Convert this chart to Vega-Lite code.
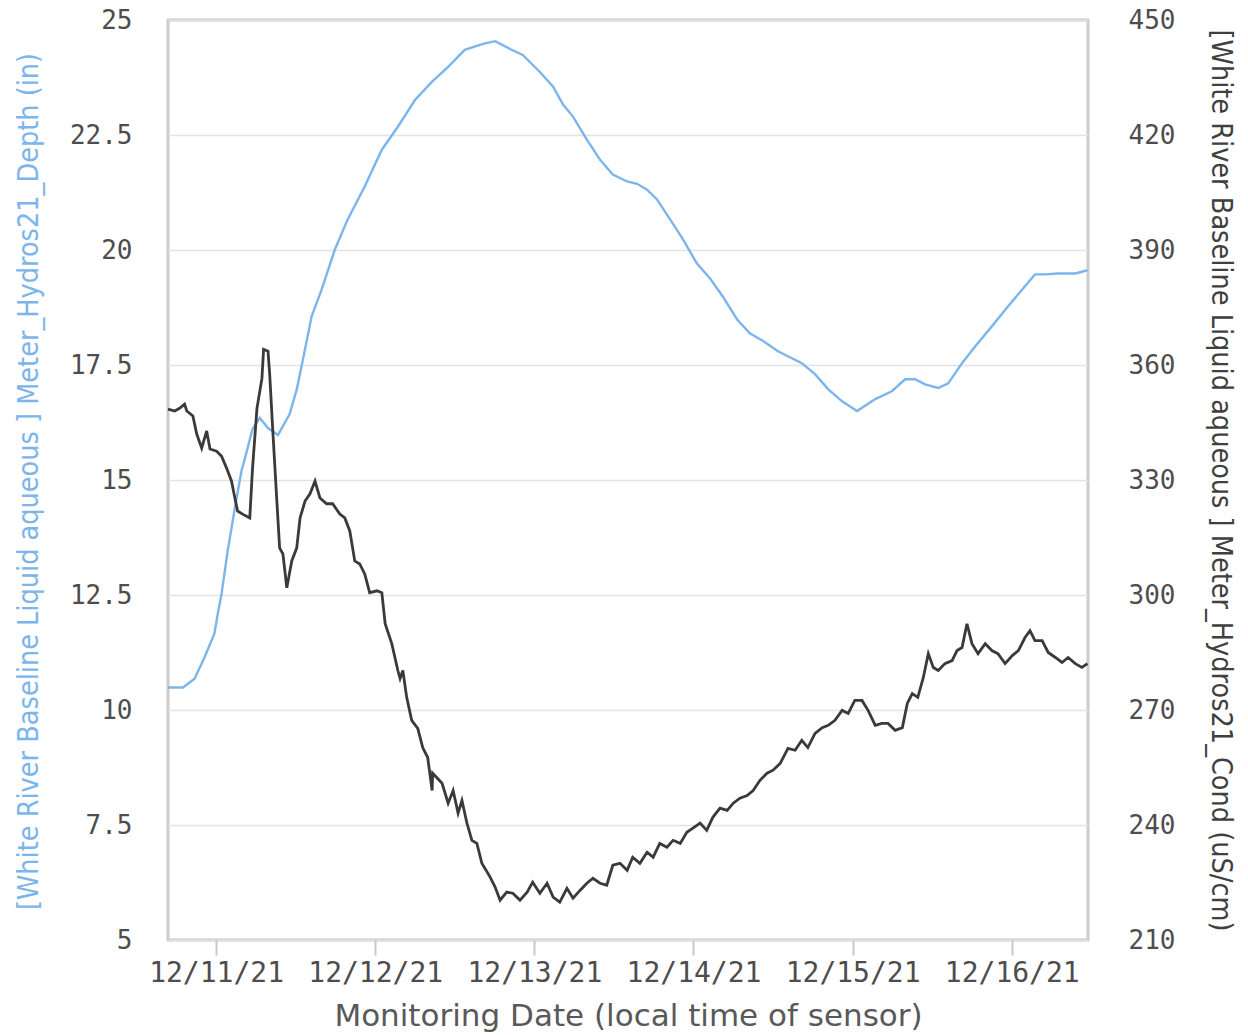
{
  "$schema": "https://vega.github.io/schema/vega-lite/v6.json",
  "width": 920,
  "height": 920,
  "autosize": {"type": "none"},
  "padding": {"left": 168, "top": 20, "right": 160, "bottom": 95},
  "background": "white",
  "config": {
    "view": {"stroke": "#cccccc", "strokeWidth": 3},
    "axis": {"domain": false, "labelColor": "#4d4d4d", "titleFontWeight": "normal", "labelFont": "DejaVu Sans Mono"}
  },
  "datasets": {
    "depth": [
      {"t": "2021-12-10T16:45", "v": 10.49}, {"t": "2021-12-10T19:00", "v": 10.49}, {"t": "2021-12-10T20:45", "v": 10.68},
      {"t": "2021-12-10T22:15", "v": 11.14}, {"t": "2021-12-10T23:45", "v": 11.66},
      {"t": "2021-12-11T00:15", "v": 12.09}, {"t": "2021-12-11T00:50", "v": 12.53}, {"t": "2021-12-11T01:45", "v": 13.46},
      {"t": "2021-12-11T02:50", "v": 14.39}, {"t": "2021-12-11T03:50", "v": 15.2}, {"t": "2021-12-11T04:20", "v": 15.46},
      {"t": "2021-12-11T05:30", "v": 16.11}, {"t": "2021-12-11T06:35", "v": 16.35}, {"t": "2021-12-11T07:50", "v": 16.13},
      {"t": "2021-12-11T09:20", "v": 15.98}, {"t": "2021-12-11T11:05", "v": 16.43}, {"t": "2021-12-11T12:10", "v": 16.97},
      {"t": "2021-12-11T13:25", "v": 17.84}, {"t": "2021-12-11T14:25", "v": 18.56}, {"t": "2021-12-11T15:55", "v": 19.14},
      {"t": "2021-12-11T17:55", "v": 20.01}, {"t": "2021-12-11T19:50", "v": 20.66}, {"t": "2021-12-11T22:25", "v": 21.38},
      {"t": "2021-12-12T01:00", "v": 22.18}, {"t": "2021-12-12T03:25", "v": 22.68}, {"t": "2021-12-12T06:00", "v": 23.26},
      {"t": "2021-12-12T08:35", "v": 23.66}, {"t": "2021-12-12T11:00", "v": 23.98}, {"t": "2021-12-12T13:30", "v": 24.35},
      {"t": "2021-12-12T16:15", "v": 24.48}, {"t": "2021-12-12T18:05", "v": 24.54}, {"t": "2021-12-12T20:20", "v": 24.37},
      {"t": "2021-12-12T22:15", "v": 24.24},
      {"t": "2021-12-13T00:50", "v": 23.87}, {"t": "2021-12-13T02:50", "v": 23.55}, {"t": "2021-12-13T04:20", "v": 23.16},
      {"t": "2021-12-13T05:50", "v": 22.9}, {"t": "2021-12-13T07:55", "v": 22.4}, {"t": "2021-12-13T09:55", "v": 21.96},
      {"t": "2021-12-13T11:50", "v": 21.64}, {"t": "2021-12-13T14:00", "v": 21.49}, {"t": "2021-12-13T15:30", "v": 21.44},
      {"t": "2021-12-13T17:00", "v": 21.31}, {"t": "2021-12-13T18:30", "v": 21.1}, {"t": "2021-12-13T20:30", "v": 20.66},
      {"t": "2021-12-13T22:25", "v": 20.23},
      {"t": "2021-12-14T00:30", "v": 19.71}, {"t": "2021-12-14T02:30", "v": 19.38}, {"t": "2021-12-14T04:25", "v": 18.99},
      {"t": "2021-12-14T06:35", "v": 18.49}, {"t": "2021-12-14T08:30", "v": 18.19}, {"t": "2021-12-14T10:30", "v": 18.02},
      {"t": "2021-12-14T12:45", "v": 17.8}, {"t": "2021-12-14T14:15", "v": 17.69}, {"t": "2021-12-14T16:20", "v": 17.54},
      {"t": "2021-12-14T18:20", "v": 17.3}, {"t": "2021-12-14T20:20", "v": 16.97}, {"t": "2021-12-14T22:25", "v": 16.71},
      {"t": "2021-12-15T00:40", "v": 16.5}, {"t": "2021-12-15T03:25", "v": 16.76}, {"t": "2021-12-15T05:55", "v": 16.93},
      {"t": "2021-12-15T07:55", "v": 17.19}, {"t": "2021-12-15T09:25", "v": 17.19}, {"t": "2021-12-15T10:55", "v": 17.08},
      {"t": "2021-12-15T12:55", "v": 17.0}, {"t": "2021-12-15T14:25", "v": 17.1}, {"t": "2021-12-15T16:30", "v": 17.54},
      {"t": "2021-12-15T18:30", "v": 17.91}, {"t": "2021-12-15T21:00", "v": 18.34}, {"t": "2021-12-15T23:25", "v": 18.77},
      {"t": "2021-12-16T01:35", "v": 19.14}, {"t": "2021-12-16T03:30", "v": 19.47}, {"t": "2021-12-16T05:00", "v": 19.47},
      {"t": "2021-12-16T07:00", "v": 19.49}, {"t": "2021-12-16T09:35", "v": 19.49}, {"t": "2021-12-16T11:25", "v": 19.56}
    ],
    "cond": [
      {"t": "2021-12-10T16:45", "v": 348.5}, {"t": "2021-12-10T17:45", "v": 348.0}, {"t": "2021-12-10T18:30", "v": 348.7},
      {"t": "2021-12-10T19:15", "v": 349.8}, {"t": "2021-12-10T19:35", "v": 348.0}, {"t": "2021-12-10T20:30", "v": 346.7},
      {"t": "2021-12-10T21:05", "v": 342.0}, {"t": "2021-12-10T21:50", "v": 338.3}, {"t": "2021-12-10T22:35", "v": 342.8},
      {"t": "2021-12-10T23:05", "v": 338.1},
      {"t": "2021-12-11T00:05", "v": 337.5}, {"t": "2021-12-11T00:50", "v": 336.2}, {"t": "2021-12-11T01:35", "v": 333.1},
      {"t": "2021-12-11T02:20", "v": 329.7}, {"t": "2021-12-11T02:50", "v": 325.3}, {"t": "2021-12-11T03:15", "v": 321.9},
      {"t": "2021-12-11T04:00", "v": 321.1}, {"t": "2021-12-11T05:05", "v": 320.1}, {"t": "2021-12-11T05:30", "v": 333.1},
      {"t": "2021-12-11T06:10", "v": 348.7}, {"t": "2021-12-11T06:55", "v": 356.5}, {"t": "2021-12-11T07:10", "v": 364.1},
      {"t": "2021-12-11T07:50", "v": 363.6}, {"t": "2021-12-11T08:05", "v": 357.6}, {"t": "2021-12-11T08:35", "v": 342.0},
      {"t": "2021-12-11T09:10", "v": 324.5}, {"t": "2021-12-11T09:35", "v": 312.3}, {"t": "2021-12-11T10:05", "v": 310.7},
      {"t": "2021-12-11T10:40", "v": 301.9}, {"t": "2021-12-11T11:25", "v": 308.9}, {"t": "2021-12-11T12:10", "v": 312.3},
      {"t": "2021-12-11T12:40", "v": 320.1}, {"t": "2021-12-11T13:25", "v": 324.5}, {"t": "2021-12-11T14:10", "v": 326.4},
      {"t": "2021-12-11T14:55", "v": 329.7}, {"t": "2021-12-11T15:40", "v": 325.3}, {"t": "2021-12-11T16:40", "v": 323.8},
      {"t": "2021-12-11T17:35", "v": 323.8}, {"t": "2021-12-11T18:40", "v": 321.1}, {"t": "2021-12-11T19:25", "v": 320.1},
      {"t": "2021-12-11T20:10", "v": 316.7}, {"t": "2021-12-11T20:55", "v": 308.9}, {"t": "2021-12-11T21:40", "v": 308.1},
      {"t": "2021-12-11T22:25", "v": 305.5}, {"t": "2021-12-11T23:10", "v": 300.6},
      {"t": "2021-12-12T00:15", "v": 301.1}, {"t": "2021-12-12T01:00", "v": 300.6}, {"t": "2021-12-12T01:30", "v": 292.5},
      {"t": "2021-12-12T02:30", "v": 287.3}, {"t": "2021-12-12T03:25", "v": 280.3}, {"t": "2021-12-12T03:45", "v": 278.2},
      {"t": "2021-12-12T04:10", "v": 280.3}, {"t": "2021-12-12T04:45", "v": 273.3}, {"t": "2021-12-12T05:30", "v": 267.3},
      {"t": "2021-12-12T06:25", "v": 265.2}, {"t": "2021-12-12T07:10", "v": 260.2}, {"t": "2021-12-12T07:55", "v": 257.6},
      {"t": "2021-12-12T08:35", "v": 249.0}, {"t": "2021-12-12T08:40", "v": 253.5}, {"t": "2021-12-12T10:05", "v": 250.9},
      {"t": "2021-12-12T11:00", "v": 245.7}, {"t": "2021-12-12T11:45", "v": 249.0}, {"t": "2021-12-12T12:30", "v": 243.1},
      {"t": "2021-12-12T13:05", "v": 246.4}, {"t": "2021-12-12T13:50", "v": 240.5}, {"t": "2021-12-12T14:35", "v": 236.0},
      {"t": "2021-12-12T15:20", "v": 235.2}, {"t": "2021-12-12T16:05", "v": 230.0}, {"t": "2021-12-12T17:20", "v": 226.4},
      {"t": "2021-12-12T18:05", "v": 223.8}, {"t": "2021-12-12T18:50", "v": 220.4}, {"t": "2021-12-12T19:50", "v": 222.5},
      {"t": "2021-12-12T20:45", "v": 222.2}, {"t": "2021-12-12T21:50", "v": 220.4}, {"t": "2021-12-12T22:55", "v": 222.5},
      {"t": "2021-12-12T23:45", "v": 225.1},
      {"t": "2021-12-13T00:50", "v": 222.2}, {"t": "2021-12-13T01:55", "v": 224.8}, {"t": "2021-12-13T02:50", "v": 221.2},
      {"t": "2021-12-13T03:50", "v": 219.9}, {"t": "2021-12-13T04:55", "v": 223.5}, {"t": "2021-12-13T05:50", "v": 220.9},
      {"t": "2021-12-13T06:55", "v": 223.0}, {"t": "2021-12-13T07:55", "v": 224.8}, {"t": "2021-12-13T08:50", "v": 226.1},
      {"t": "2021-12-13T09:55", "v": 224.8}, {"t": "2021-12-13T10:55", "v": 224.3}, {"t": "2021-12-13T11:50", "v": 229.5},
      {"t": "2021-12-13T12:55", "v": 230.0}, {"t": "2021-12-13T14:00", "v": 228.2}, {"t": "2021-12-13T14:50", "v": 231.6},
      {"t": "2021-12-13T15:55", "v": 230.0}, {"t": "2021-12-13T17:00", "v": 232.9}, {"t": "2021-12-13T17:55", "v": 231.6},
      {"t": "2021-12-13T18:55", "v": 235.2}, {"t": "2021-12-13T20:00", "v": 234.2}, {"t": "2021-12-13T20:55", "v": 236.0},
      {"t": "2021-12-13T22:00", "v": 235.2}, {"t": "2021-12-13T23:00", "v": 238.1}, {"t": "2021-12-13T23:55", "v": 239.2},
      {"t": "2021-12-14T01:00", "v": 240.5}, {"t": "2021-12-14T02:00", "v": 238.6}, {"t": "2021-12-14T02:55", "v": 242.0},
      {"t": "2021-12-14T04:00", "v": 244.4}, {"t": "2021-12-14T05:05", "v": 243.8}, {"t": "2021-12-14T06:00", "v": 245.7},
      {"t": "2021-12-14T07:00", "v": 247.0}, {"t": "2021-12-14T08:05", "v": 247.7}, {"t": "2021-12-14T09:00", "v": 249.0},
      {"t": "2021-12-14T10:00", "v": 251.6}, {"t": "2021-12-14T11:05", "v": 253.5}, {"t": "2021-12-14T12:00", "v": 254.3},
      {"t": "2021-12-14T13:05", "v": 256.1}, {"t": "2021-12-14T14:15", "v": 260.0}, {"t": "2021-12-14T15:20", "v": 259.5},
      {"t": "2021-12-14T16:20", "v": 262.1}, {"t": "2021-12-14T17:15", "v": 260.2}, {"t": "2021-12-14T18:20", "v": 263.9},
      {"t": "2021-12-14T19:25", "v": 265.4}, {"t": "2021-12-14T20:20", "v": 266.0}, {"t": "2021-12-14T21:20", "v": 267.3},
      {"t": "2021-12-14T22:25", "v": 269.9}, {"t": "2021-12-14T23:20", "v": 269.1},
      {"t": "2021-12-15T00:20", "v": 272.5}, {"t": "2021-12-15T01:25", "v": 272.5}, {"t": "2021-12-15T02:20", "v": 269.9},
      {"t": "2021-12-15T03:25", "v": 266.0}, {"t": "2021-12-15T04:25", "v": 266.5}, {"t": "2021-12-15T05:20", "v": 266.5},
      {"t": "2021-12-15T06:25", "v": 264.7}, {"t": "2021-12-15T07:30", "v": 265.4}, {"t": "2021-12-15T08:15", "v": 271.7},
      {"t": "2021-12-15T09:00", "v": 274.3}, {"t": "2021-12-15T09:50", "v": 273.3}, {"t": "2021-12-15T10:40", "v": 278.5},
      {"t": "2021-12-15T11:25", "v": 284.7}, {"t": "2021-12-15T12:10", "v": 281.1}, {"t": "2021-12-15T12:55", "v": 280.3},
      {"t": "2021-12-15T13:55", "v": 282.1}, {"t": "2021-12-15T15:00", "v": 282.9}, {"t": "2021-12-15T15:45", "v": 285.5},
      {"t": "2021-12-15T16:30", "v": 286.3}, {"t": "2021-12-15T17:15", "v": 292.5}, {"t": "2021-12-15T18:00", "v": 287.3},
      {"t": "2021-12-15T18:55", "v": 284.7}, {"t": "2021-12-15T20:00", "v": 287.3}, {"t": "2021-12-15T21:00", "v": 285.5},
      {"t": "2021-12-15T21:55", "v": 284.7}, {"t": "2021-12-15T23:00", "v": 282.1},
      {"t": "2021-12-16T00:05", "v": 284.2}, {"t": "2021-12-16T01:00", "v": 285.5}, {"t": "2021-12-16T02:00", "v": 288.9},
      {"t": "2021-12-16T02:45", "v": 290.7}, {"t": "2021-12-16T03:30", "v": 288.1}, {"t": "2021-12-16T04:35", "v": 288.1},
      {"t": "2021-12-16T05:30", "v": 285.0}, {"t": "2021-12-16T06:35", "v": 283.7}, {"t": "2021-12-16T07:35", "v": 282.4},
      {"t": "2021-12-16T08:30", "v": 283.7}, {"t": "2021-12-16T09:35", "v": 282.1}, {"t": "2021-12-16T10:35", "v": 281.1},
      {"t": "2021-12-16T11:25", "v": 282.1}
    ]
  },
  "encoding": {
    "x": {
      "field": "t",
      "type": "temporal",
      "scale": {
        "domain": [
          {"year": 2021, "month": 12, "date": 10, "hours": 16, "minutes": 45},
          {"year": 2021, "month": 12, "date": 16, "hours": 11, "minutes": 30}
        ],
        "nice": false
      },
      "axis": {
        "title": "Monitoring Date (local time of sensor)",
        "values": [
          {"year": 2021, "month": 12, "date": 11},
          {"year": 2021, "month": 12, "date": 12},
          {"year": 2021, "month": 12, "date": 13},
          {"year": 2021, "month": 12, "date": 14},
          {"year": 2021, "month": 12, "date": 15},
          {"year": 2021, "month": 12, "date": 16}
        ],
        "format": "%m/%d/%y",
        "grid": false,
        "ticks": true,
        "tickSize": 15,
        "tickWidth": 2,
        "tickColor": "#c8c8c8",
        "labelFont": "DejaVu Sans Mono",
        "labelFontSize": 28,
        "labelPadding": 4,
        "labelFlush": false,
        "labelOverlap": false,
        "titleFont": "DejaVu Sans",
        "titleFontSize": 31,
        "titleColor": "#595959",
        "titleX": 460,
        "titleY": 85,
        "titleAlign": "center",
        "titleBaseline": "alphabetic"
      }
    }
  },
  "layer": [
    {
      "data": {"name": "depth"},
      "mark": {"type": "line", "color": "#7cb5ec", "strokeWidth": 2.4},
      "encoding": {
        "y": {
          "field": "v",
          "type": "quantitative",
          "scale": {"domain": [5, 25], "nice": false, "zero": false},
          "axis": {
            "orient": "left",
            "values": [5, 7.5, 10, 12.5, 15, 17.5, 20, 22.5, 25],
            "labelExpr": "'' + datum.value",
            "ticks": false,
            "tickSize": 0,
            "labelPadding": 36,
            "labelFontSize": 26,
            "grid": true,
            "gridColor": "#e3e3e3",
            "gridWidth": 1.5,
            "title": "[White River Baseline Liquid aqueous ] Meter_Hydros21_Depth (in)",
            "titleColor": "#7cb5ec",
            "titleFont": "DejaVu Sans Condensed, Roboto, sans-serif",
            "titleFontSize": 28.5,
            "titleAngle": 270,
            "titleX": -140,
            "titleY": 461,
            "titleAlign": "center",
            "titleBaseline": "middle"
          }
        }
      }
    },
    {
      "data": {"name": "cond"},
      "mark": {"type": "line", "color": "#3a3a3a", "strokeWidth": 2.8},
      "encoding": {
        "y": {
          "field": "v",
          "type": "quantitative",
          "scale": {"domain": [210, 450], "nice": false, "zero": false},
          "axis": {
            "orient": "right",
            "values": [210, 240, 270, 300, 330, 360, 390, 420, 450],
            "ticks": false,
            "tickSize": 0,
            "labelPadding": 40,
            "labelFontSize": 26,
            "grid": false,
            "title": "[White River Baseline Liquid aqueous ] Meter_Hydros21_Cond (uS/cm)",
            "titleColor": "#404040",
            "titleFont": "DejaVu Sans Condensed, Roboto, sans-serif",
            "titleFontSize": 28.5,
            "titleAngle": 90,
            "titleX": 132,
            "titleY": 460,
            "titleAlign": "center",
            "titleBaseline": "middle"
          }
        }
      }
    }
  ],
  "resolve": {"scale": {"y": "independent"}}
}
